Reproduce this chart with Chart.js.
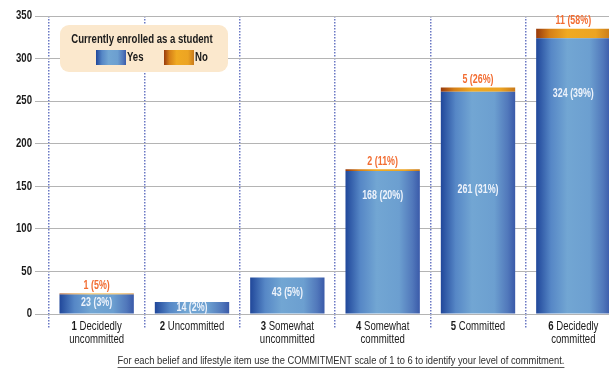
<!DOCTYPE html>
<html>
<head>
<meta charset="utf-8">
<script src="https://cdn.jsdelivr.net/npm/chart.js@4.4.1/dist/chart.umd.min.js"></script>
<style>
  html, body { margin: 0; padding: 0; background: #fff; }
  #wrap { width: 609px; height: 369px; overflow: hidden; position: relative; }
  #wrap canvas { position: absolute; left: 0; top: 0; }
</style>
</head>
<body>
<div id="wrap"><canvas id="chart" width="621" height="369"></canvas></div>
<script>
// commitment scale categories
const scaleNumbers = ["1", "2", "3", "4", "5", "6"];
const scaleNames = [
  ["Decidedly", "uncommitted"],
  ["Uncommitted"],
  ["Somewhat", "uncommitted"],
  ["Somewhat", "committed"],
  ["Committed"],
  ["Decidedly", "committed"]
];

// currently enrolled as a student: counts and share of each group
const enrolledYes = [23, 14, 43, 168, 261, 324];
const enrolledNo = [1, 0, 0, 2, 5, 11];
const yesPct = [3, 2, 5, 20, 31, 39];
const noPct = [5, null, null, 11, 26, 58];

const yMax = 350;
const yStep = 50;

const footnote = "For each belief and lifestyle item use the COMMITMENT scale of 1 to 6 to identify your level of commitment.";

const FONT = "'Liberation Sans', Arial, sans-serif";
const NARROW = 0.8; // horizontal squeeze for a condensed look
const BAR_PCT = 0.78;

const blueStops = [[0, "#20479a"], [0.2, "#5687c6"], [0.42, "#72a6d3"], [0.72, "#6c9fd0"], [0.9, "#5178bb"], [1, "#3a5aa9"]];
const orangeStops = [[0, "#983a0c"], [0.18, "#d57f18"], [0.42, "#f0aa22"], [0.8, "#eca423"], [1, "#c97a1a"]];

function shaded(stops) {
  return (c) => {
    const chart = c.chart;
    const x = chart.scales.x;
    if (!chart.chartArea || !x || c.dataIndex === undefined) return stops[2][1];
    const cx = x.getPixelForValue(c.dataIndex);
    const half = x.width / scaleNumbers.length * BAR_PCT / 2;
    const g = chart.ctx.createLinearGradient(cx - half, 0, cx + half, 0);
    stops.forEach(([o, col]) => g.addColorStop(o, col));
    return g;
  };
}

function textWidth(ctx, text, font, squeeze = NARROW) {
  ctx.save();
  ctx.font = font;
  const w = ctx.measureText(text).width * squeeze;
  ctx.restore();
  return w;
}

function narrowText(ctx, text, x, y, align, font, color, squeeze = NARROW) {
  ctx.save();
  ctx.font = font;
  ctx.fillStyle = color;
  ctx.textAlign = align;
  ctx.textBaseline = "middle";
  ctx.translate(x, y);
  ctx.scale(squeeze, 1);
  ctx.fillText(text, 0, 0);
  ctx.restore();
}

// legend box sitting on top of the grid
const legendBox = {
  id: "legendBox",
  beforeDatasetsDraw(chart) {
    const ctx = chart.ctx;
    const left = chart.chartArea.left + 11;
    const top = 25;
    ctx.save();
    ctx.fillStyle = "#fbe8cd";
    ctx.beginPath();
    ctx.roundRect(left, top, 168, 47, 9);
    ctx.fill();

    const bold = "bold 12px " + FONT;
    narrowText(ctx, "Currently enrolled as a student", left + 82, top + 15, "center", bold, "#1a1a1a");

    const swatch = (x, stops, text) => {
      const g = ctx.createLinearGradient(x, 0, x + 30, 0);
      stops.forEach(([o, col]) => g.addColorStop(o, col));
      ctx.fillStyle = g;
      ctx.fillRect(x, top + 25, 30, 15);
      narrowText(ctx, text, x + 31, top + 33, "left", bold, "#1a1a1a");
    };
    swatch(left + 36, blueStops, "Yes");
    swatch(left + 104, orangeStops, "No");
    ctx.restore();
  }
};

// value labels, axis labels and the footnote
const annotations = {
  id: "annotations",
  afterDatasetsDraw(chart, args, opts) {
    const ctx = chart.ctx;
    const x = chart.scales.x;
    const y = chart.scales.y;
    const valueFont = "bold 12px " + FONT;

    enrolledYes.forEach((v, i) => {
      const cx = x.getPixelForValue(i);
      narrowText(ctx, v + " (" + yesPct[i] + "%)", cx, y.getPixelForValue(v * opts.labelAt[i]), "center", valueFont, "#eef3fb", 0.74);
      if (enrolledNo[i] > 0) {
        narrowText(ctx, enrolledNo[i] + " (" + noPct[i] + "%)", cx, y.getPixelForValue(v + enrolledNo[i]) - 8, "center", valueFont, "#f26d32", 0.74);
      }
    });

    // y tick labels
    y.ticks.forEach(t => {
      narrowText(ctx, String(t.value), chart.chartArea.left - 17, y.getPixelForValue(t.value), "right", "bold 12px " + FONT, "#1a1a1a");
    });

    // category labels: bold scale number followed by its name
    const boldF = "bold 12px " + FONT;
    const regF = "12px " + FONT;
    scaleNames.forEach((lines, i) => {
      const cx = x.getPixelForValue(i);
      const lineY = chart.chartArea.bottom + 13;
      const numW = textWidth(ctx, scaleNumbers[i] + " ", boldF);
      const nameW = textWidth(ctx, lines[0], regF);
      const sx = cx - (numW + nameW) / 2;
      narrowText(ctx, scaleNumbers[i] + " ", sx, lineY, "left", boldF, "#1a1a1a");
      narrowText(ctx, lines[0], sx + numW, lineY, "left", regF, "#1a1a1a");
      if (lines[1]) narrowText(ctx, lines[1], cx, lineY + 13, "center", regF, "#1a1a1a");
    });

    const footF = "11.7px " + FONT;
    const fx = 341;
    const fy = 361;
    narrowText(ctx, footnote, fx, fy, "center", footF, "#2e2e2e");
    const w = textWidth(ctx, footnote, footF);
    ctx.save();
    ctx.strokeStyle = "#2e2e2e";
    ctx.lineWidth = 0.8;
    ctx.beginPath();
    ctx.moveTo(fx - w / 2, fy + 6.5);
    ctx.lineTo(fx + w / 2, fy + 6.5);
    ctx.stroke();
    ctx.restore();
  }
};

new Chart(document.getElementById("chart"), {
  type: "bar",
  data: {
    labels: scaleNumbers,
    datasets: [
      { label: "Yes", data: enrolledYes, backgroundColor: shaded(blueStops), barPercentage: BAR_PCT, categoryPercentage: 1 },
      { label: "No", data: enrolledNo, backgroundColor: shaded(orangeStops), barPercentage: BAR_PCT, categoryPercentage: 1 }
    ]
  },
  options: {
    responsive: false,
    animation: false,
    layout: { padding: { top: 16, left: 0, right: 0, bottom: 0 } },
    plugins: {
      legend: { display: false },
      tooltip: { enabled: false },
      annotations: { labelAt: [0.56, 0.5, 0.58, 0.83, 0.56, 0.8] }
    },
    scales: {
      x: {
        stacked: true,
        offset: true,
        grid: { offset: true, color: "#6a78c4", lineWidth: 1.5, tickLength: 14, tickBorderDash: [1.5, 1.5] },
        border: { display: false, dash: [1.5, 1.5] },
        ticks: { display: false },
        afterFit: s => { s.height = 55; }
      },
      y: {
        stacked: true,
        min: 0,
        max: yMax,
        ticks: { stepSize: yStep, display: false },
        grid: { color: "#b4b4b4", lineWidth: 1, tickLength: 14 },
        border: { display: false },
        afterFit: s => { s.width = 49; }
      }
    }
  },
  plugins: [legendBox, annotations]
});
</script>
</body>
</html>
